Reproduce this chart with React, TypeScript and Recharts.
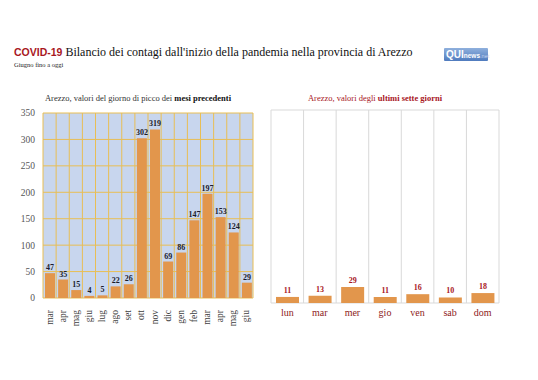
import { BarChart, Bar, XAxis, YAxis, CartesianGrid, LabelList } from 'recharts';

const MONTHS = ['mar', 'apr', 'mag', 'giu', 'lug', 'ago', 'set', 'ott', 'nov', 'dic', 'gen', 'feb', 'mar ', 'apr ', 'mag ', 'giu '];
const PEAKS = [47, 35, 15, 4, 5, 22, 26, 302, 319, 69, 86, 147, 197, 153, 124, 29];

const DAYS = ['lun', 'mar', 'mer', 'gio', 'ven', 'sab', 'dom'];
const WEEK = [11, 13, 29, 11, 16, 10, 18];

const Y_TICKS = [0, 50, 100, 150, 200, 250, 300, 350];

const monthData = MONTHS.map((m, i) => ({ name: m, value: PEAKS[i] }));
const dayData = DAYS.map((d, i) => ({ name: d, value: WEEK[i] }));

const SERIF = "'Liberation Serif', 'DejaVu Serif', serif";
const SANS = "'Liberation Sans', Arial, sans-serif";
const RED = '#A8161E';
const ORANGE = '#E2964C';

// vertical grid at category boundaries, not at centres
const boundaries = (n: number) => ({ offset }: any) =>
  Array.from({ length: n + 1 }, (_, i) => offset.left + (i * offset.width) / n);

function MonthTick({ x, y, payload }: any) {
  return (
    <text
      x={0}
      y={0}
      transform={`translate(${x + 3},${y + 4}) rotate(-90)`}
      textAnchor="end"
      fontFamily={SERIF}
      fontSize={9.5}
      fill="#404040"
    >
      {String(payload.value).trim()}
    </text>
  );
}

export default function App() {
  return (
    <div style={{ position: 'absolute', left: 0, top: 0, width: 538, height: 380, background: '#fff' }}>
      <div style={{ position: 'absolute', left: 14, top: 45, fontFamily: SERIF, fontSize: 12, whiteSpace: 'nowrap', color: '#111' }}>
        <span style={{ fontFamily: SANS, fontWeight: 700, color: RED, fontSize: 10.5 }}>COVID-19</span>{' '}
        Bilancio dei contagi dall'inizio della pandemia nella provincia di Arezzo
      </div>
      <div style={{ position: 'absolute', left: 14, top: 61, fontFamily: SERIF, fontSize: 6.5, color: '#222' }}>Giugno fino a oggi</div>
      <div style={{
        position: 'absolute', left: 444, top: 48, width: 44, height: 13,
        background: 'linear-gradient(#8FB0DD, #4F7BBE)', borderRadius: 1,
        fontFamily: SANS, color: '#fff', fontWeight: 700, fontSize: 10, lineHeight: '13px',
        paddingLeft: 2, boxSizing: 'border-box', whiteSpace: 'nowrap',
      }}>
        QUI<span style={{ fontSize: 6.5 }}>news</span><span style={{ fontSize: 5.5, color: '#C9D8F0', fontWeight: 400 }}>.net</span>
      </div>

      <div style={{ position: 'absolute', left: 0, top: 93, width: 276, textAlign: 'center', fontFamily: SERIF, fontSize: 8.5, color: '#333', whiteSpace: 'nowrap' }}>
        Arezzo, valori del giorno di picco dei <b style={{ color: '#111' }}>mesi precedenti</b>
      </div>
      <div style={{ position: 'absolute', left: 265, top: 93, width: 220, textAlign: 'center', fontFamily: SERIF, fontSize: 8.5, color: RED, whiteSpace: 'nowrap' }}>
        Arezzo, valori degli <b>ultimi sette giorni</b>
      </div>

      <div style={{ position: 'absolute', left: 0, top: 100 }}>
        <BarChart width={270} height={250} data={monthData} margin={{ top: 13, right: 17, bottom: 0, left: 0 }} barSize={10}>
          <CartesianGrid
            fill="#C8D6EE"
            stroke="#E8BE55"
            strokeWidth={1}
            verticalCoordinatesGenerator={boundaries(MONTHS.length)}
          />
          <XAxis dataKey="name" interval={0} height={52} axisLine={false} tickLine={false} tick={<MonthTick />} />
          <YAxis
            domain={[0, 350]}
            ticks={Y_TICKS}
            width={43}
            axisLine={false}
            tickLine={false}
            tick={{ fontFamily: SERIF, fontSize: 9.5, fill: '#555' }}
          />
          <Bar dataKey="value" fill={ORANGE} isAnimationActive={false}>
            <LabelList dataKey="value" position="top" offset={3} style={{ fontFamily: SERIF, fontSize: 8, fontWeight: 700, fill: '#1B1B2B' }} />
          </Bar>
        </BarChart>
      </div>

      <div style={{ position: 'absolute', left: 265, top: 100 }}>
        <BarChart width={273} height={233} data={dayData} margin={{ top: 10, right: 39, bottom: 0, left: 6 }} barSize={23}>
          <CartesianGrid stroke="#D9D9D9" strokeWidth={1} verticalCoordinatesGenerator={boundaries(DAYS.length)} />
          <XAxis
            dataKey="name"
            interval={0}
            height={30}
            axisLine={false}
            tickLine={false}
            tickMargin={0}
            tick={{ fontFamily: SERIF, fontSize: 10, fill: '#8E1B1B' }}
          />
          <YAxis domain={[0, 350]} ticks={Y_TICKS} width={0} axisLine={false} tickLine={false} tick={false} />
          <Bar dataKey="value" fill={ORANGE} isAnimationActive={false}>
            <LabelList dataKey="value" position="top" offset={4} style={{ fontFamily: SERIF, fontSize: 8, fontWeight: 700, fill: RED }} />
          </Bar>
        </BarChart>
      </div>
    </div>
  );
}
